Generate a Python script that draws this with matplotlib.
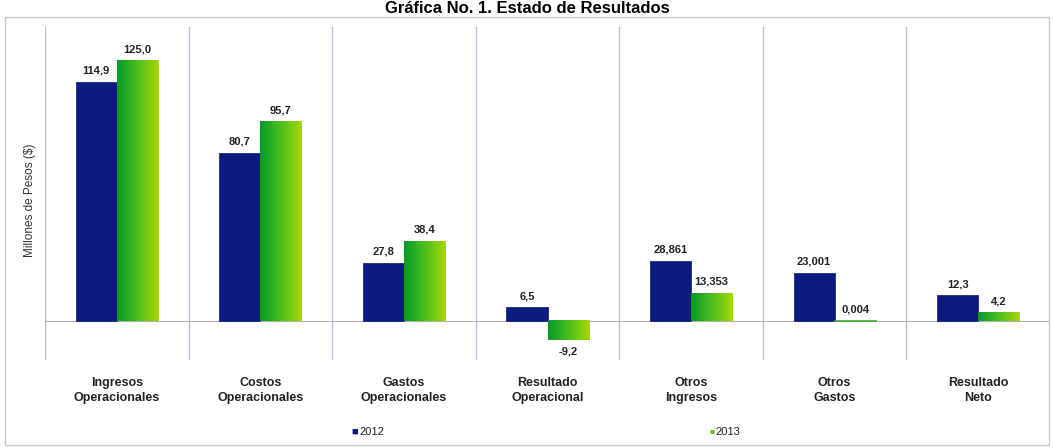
import numpy as np
import matplotlib
matplotlib.use('Agg')
import matplotlib.pyplot as plt
from matplotlib.colors import LinearSegmentedColormap
from matplotlib.patches import Rectangle

plt.rcParams['font.family'] = ['Liberation Sans Narrow', 'Liberation Sans', 'DejaVu Sans']

categories = ['Ingresos\nOperacionales', 'Costos\nOperacionales', 'Gastos\nOperacionales',
              'Resultado\nOperacional', 'Otros\nIngresos', 'Otros\nGastos', 'Resultado\nNeto']
values_2012 = [114.9, 80.7, 27.8, 6.5, 28.861, 23.001, 12.3]
values_2013 = [125.0, 95.7, 38.4, -9.2, 13.353, 0.004, 4.2]
labels_2012 = ['114,9', '80,7', '27,8', '6,5', '28,861', '23,001', '12,3']
labels_2013 = ['125,0', '95,7', '38,4', '-9,2', '13,353', '0,004', '4,2']

fig = plt.figure(figsize=(10.54, 4.48), dpi=100)
ax = fig.add_axes([45 / 1054, (448 - 360) / 448, (1050 - 45) / 1054, (360 - 27) / 448])

# outer frame
fig.patches.append(Rectangle((5 / 1054, 3 / 448), 1044 / 1054, 428 / 448, transform=fig.transFigure,
                             fill=False, edgecolor='#c8c8c8', lw=1.0))

fig.text(0.5, 1 - 1 / 448, 'Gráfica No. 1. Estado de Resultados', ha='center', va='top',
         fontsize=12, fontweight='bold', family=['Liberation Sans', 'DejaVu Sans'])

x = np.arange(len(categories))
w = 0.286
navy = '#0c1a7e'
green_cmap = LinearSegmentedColormap.from_list('g', ['#079a2a', '#4cbf1c', '#a8d50a'])
grad = np.linspace(0, 1, 64).reshape(1, -1)

bars_a = ax.bar(x - w / 2, values_2012, w, color=navy, edgecolor='#1a2a8a', lw=0.6, zorder=3)
bars_b = ax.bar(x + w / 2, values_2013, w, color='none', edgecolor='none', zorder=3)
for b in bars_b:
    x0, y0 = b.get_x(), b.get_y()
    bw, bh = b.get_width(), b.get_height()
    if abs(bh) < 0.3:
        ax.plot([x0, x0 + bw], [0, 0], color='#3aa82a', lw=1.2, zorder=4)
        continue
    ax.imshow(grad, cmap=green_cmap, aspect='auto', zorder=3,
              extent=[x0, x0 + bw, y0, y0 + bh], interpolation='bilinear')

for b, lab in zip(bars_a, labels_2012):
    ax.text(b.get_x() + b.get_width() / 2, b.get_height() + 3, lab, ha='center', va='bottom',
            fontsize=8, fontweight='bold', color='#222222', zorder=5)
for b, v, lab in zip(bars_b, values_2013, labels_2013):
    cx = b.get_x() + b.get_width() / 2
    if v < 0:
        ax.text(cx, v - 3, lab, ha='center', va='top', fontsize=8, fontweight='bold',
                color='#222222', zorder=5)
    else:
        ax.text(cx, v + 3, lab, ha='center', va='bottom', fontsize=8, fontweight='bold',
                color='#222222', zorder=5)

for xs in np.arange(-0.5, len(categories), 1.0):
    ax.axvline(xs, color='#b4bfd2', lw=1.0, zorder=1)
ax.axhline(0, color='#b0b0b0', lw=0.8, zorder=2)

ax.set_xlim(-0.5, len(categories) - 0.5)
ax.set_ylim(-18.75, 141.3)
ax.set_xticks(x)
ax.set_xticklabels(categories, fontsize=9, fontweight='bold', color='#222222', linespacing=1.35)
ax.tick_params(axis='x', length=0, pad=12)
ax.set_yticks([])
for s in ax.spines.values():
    s.set_visible(False)

fig.text(30 / 1054, 1 - 200 / 448, 'Millones de Pesos ($)', rotation=90, ha='center', va='center',
         fontsize=8.5, color='#333333')

# legend
fig.text(351 / 1054, 1 - 432 / 448, '■', ha='left', va='center', fontsize=8, color=navy)
fig.text(359 / 1054, 1 - 432 / 448, '2012', ha='left', va='center', fontsize=8, color='#222222')
fig.text(709 / 1054, 1 - 432 / 448, '■', ha='left', va='center', fontsize=6, color='#5cc21a')
fig.text(715 / 1054, 1 - 432 / 448, '2013', ha='left', va='center', fontsize=8, color='#222222')

fig.savefig('out.png', dpi=100)
